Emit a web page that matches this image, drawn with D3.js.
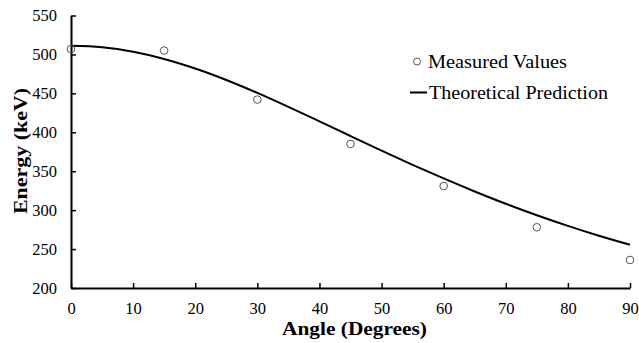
<!DOCTYPE html>
<html>
<head>
<meta charset="utf-8">
<script src="https://cdn.jsdelivr.net/npm/d3@7"></script>
<style>
  html, body { margin: 0; padding: 0; background: #fff; }
  svg { display: block; font-family: "Liberation Serif", "Times New Roman", serif; }
</style>
</head>
<body>
<svg id="chart" width="639" height="343"></svg>
<script>
// Measured scattered-photon energies
const measuredAngles = [0, 15, 30, 45, 60, 75, 90];
const measuredEnergy = [507, 505, 442, 385, 331, 278, 236];

// Theoretical prediction sampled every 5 degrees
const theoryAngles = [0, 5, 10, 15, 20, 25, 30, 35, 40, 45, 50, 55, 60, 65, 70, 75, 80, 85, 90];
const theoryEnergy = [511, 509.1, 503.4, 494.2, 481.9, 467.2, 450.6, 432.7, 414.1, 395.2,
                      376.5, 358.2, 340.7, 324.0, 308.2, 293.5, 279.8, 267.1, 255.5];

const xTicks = [0, 10, 20, 30, 40, 50, 60, 70, 80, 90];
const yTicks = [200, 250, 300, 350, 400, 450, 500, 550];

const svg = d3.select("#chart");
const plot = { left: 71, right: 630, top: 15.5, bottom: 288 };

const x = d3.scaleLinear().domain([0, 90]).range([plot.left, plot.right]);
const y = d3.scaleLinear().domain([200, 550]).range([plot.bottom, plot.top]);

// Axes with inward ticks
const xAxis = svg.append("g").attr("transform", `translate(0,${plot.bottom})`)
  .call(d3.axisBottom(x).tickValues(xTicks).tickSizeInner(-5).tickSizeOuter(0).tickPadding(14));
const yAxis = svg.append("g").attr("transform", `translate(${plot.left},0)`)
  .call(d3.axisLeft(y).tickValues(yTicks).tickSizeInner(-5).tickSizeOuter(0).tickPadding(14));

[xAxis, yAxis].forEach(g => {
  g.select(".domain").attr("stroke", "#000").attr("stroke-width", 2);
  g.selectAll(".tick line").attr("stroke", "#000").attr("stroke-width", 1.5);
  g.selectAll(".tick text").attr("fill", "#000")
    .style("font-family", "'Liberation Serif', serif").style("font-size", "16.5px");
});

// Theoretical curve
const line = d3.line().x((d, i) => x(theoryAngles[i])).y(d => y(d)).curve(d3.curveMonotoneX);
svg.append("path").datum(theoryEnergy)
  .attr("d", line).attr("fill", "none").attr("stroke", "#000").attr("stroke-width", 2);

// Measured points
svg.append("g").selectAll("circle").data(measuredEnergy).join("circle")
  .attr("cx", (d, i) => x(measuredAngles[i])).attr("cy", d => y(d)).attr("r", 3.8)
  .attr("fill", "none").attr("stroke", "#555").attr("stroke-width", 1);

// Axis titles
svg.append("text").attr("x", 354.5).attr("y", 335).attr("text-anchor", "middle")
  .attr("textLength", 145).attr("lengthAdjust", "spacingAndGlyphs")
  .style("font-size", "19px").style("font-weight", "bold").text("Angle (Degrees)");
svg.append("text").attr("transform", "translate(27,151) rotate(-90)").attr("text-anchor", "middle")
  .attr("textLength", 126).attr("lengthAdjust", "spacingAndGlyphs")
  .style("font-size", "19px").style("font-weight", "bold").text("Energy (keV)");

// Legend
const legend = svg.append("g");
legend.append("circle").attr("cx", 417).attr("cy", 61.5).attr("r", 3.5)
  .attr("fill", "none").attr("stroke", "#555").attr("stroke-width", 1);
legend.append("text").attr("x", 428).attr("y", 68).attr("textLength", 139)
  .attr("lengthAdjust", "spacingAndGlyphs").style("font-size", "18px").text("Measured Values");
legend.append("line").attr("x1", 410).attr("x2", 427).attr("y1", 92.5).attr("y2", 92.5)
  .attr("stroke", "#000").attr("stroke-width", 2);
legend.append("text").attr("x", 429).attr("y", 99).attr("textLength", 179)
  .attr("lengthAdjust", "spacingAndGlyphs").style("font-size", "18px").text("Theoretical Prediction");
</script>
</body>
</html>
